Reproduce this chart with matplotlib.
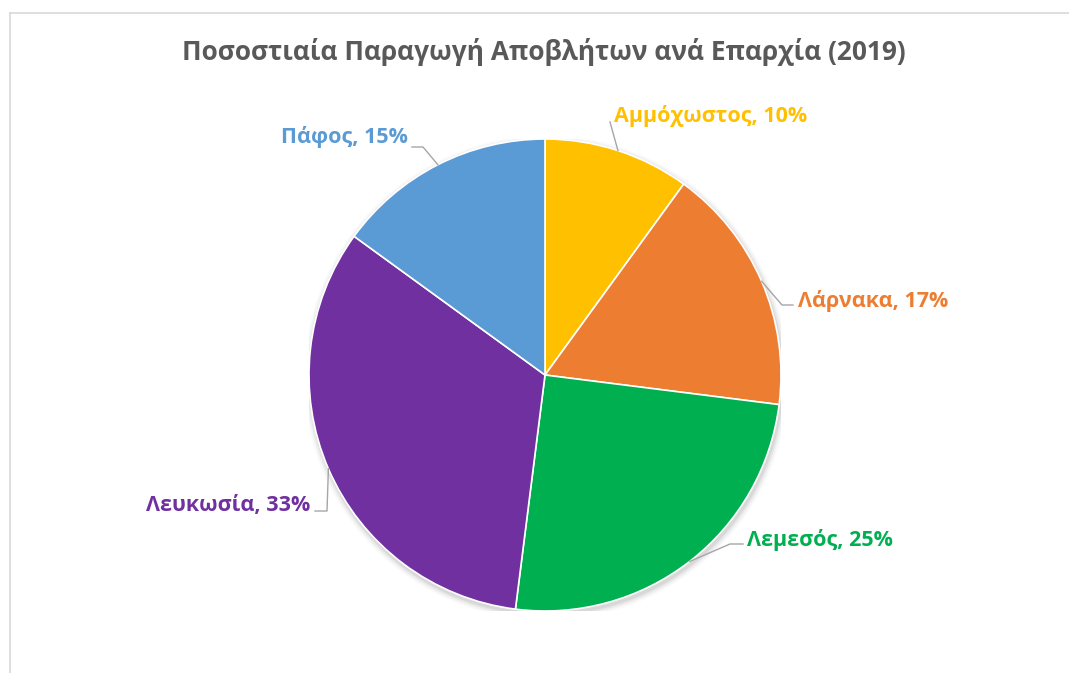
import matplotlib
matplotlib.use("Agg")
import numpy as np
import matplotlib.pyplot as plt

# data
regions = ["Αμμόχωστος", "Λάρνακα", "Λεμεσός", "Λευκωσία", "Πάφος"]
shares = [10, 17, 25, 33, 15]
colors = ["#FFC000", "#ED7D31", "#00B050", "#7030A0", "#5B9BD5"]
title = "Ποσοστιαία Παραγωγή Αποβλήτων ανά Επαρχία (2019)"

W, H = 1069, 673
cx, cy, R = 545, 375, 236  # pie centre / radius in pixels

plt.rcParams['font.family'] = ['Open Sans', 'DejaVu Sans']

fig = plt.figure(figsize=(W / 100, H / 100), dpi=100)
fig.patch.set_facecolor("white")

pax = fig.add_axes([(cx - R) / W, (H - cy - R) / H, 2 * R / W, 2 * R / H])
# soft shadow behind the pie
for i, a in enumerate([0.06, 0.045, 0.03, 0.018]):
    pax.add_patch(plt.Circle((0.005, -0.012), 1.0 + 0.006 + i * 0.007,
                             color="black", alpha=a, lw=0, zorder=0))
wedges, _ = pax.pie(shares, colors=colors, startangle=90, counterclock=False,
                    radius=1.0, wedgeprops=dict(edgecolor="white", linewidth=1.2,
                                                zorder=2))
pax.set_xlim(-1, 1)
pax.set_ylim(-1, 1)

# overlay axes in pixel coordinates (y down)
ov = fig.add_axes([0, 0, 1, 1])
ov.set_xlim(0, W)
ov.set_ylim(H, 0)
ov.axis("off")
ov.patch.set_alpha(0)

# chart frame (only top and left edges visible in the screenshot)
ov.plot([10, W], [13, 13], color="#D9D9D9", lw=1.2)
ov.plot([10, 10], [13, H], color="#D9D9D9", lw=1.2)

ov.text(544, 52, title, ha="center", va="center", fontsize=18.9,
        fontweight="bold", color="#595959")

# label placement: text anchor, alignment, leader points (from label side)
label_pos = [(614, 116, "left"), (798, 301, "left"), (747, 540, "left"),
             (310, 505, "right"), (408, 137, "right")]
leader_pts = [[(610, 122)],
              [(793, 305), (782, 305)],
              [(743, 544), (730, 544)],
              [(315, 511), (327, 511)],
              [(412, 147), (423, 147)]]

for w, name, val, col, (tx, ty, ha), pts in zip(wedges, regions, shares, colors,
                                                 label_pos, leader_pts):
    mid = np.deg2rad((w.theta1 + w.theta2) / 2)
    ex, ey = cx + R * np.cos(mid), cy - R * np.sin(mid)
    xs = [p[0] for p in pts] + [ex]
    ys = [p[1] for p in pts] + [ey]
    ov.plot(xs, ys, color="#A6A6A6", lw=1.0)
    ov.text(tx, ty, f"{name}, {val}%", ha=ha, va="center", fontsize=15.5,
            fontweight="bold", color=col)

fig.savefig("out.png", dpi=100, facecolor="white")
